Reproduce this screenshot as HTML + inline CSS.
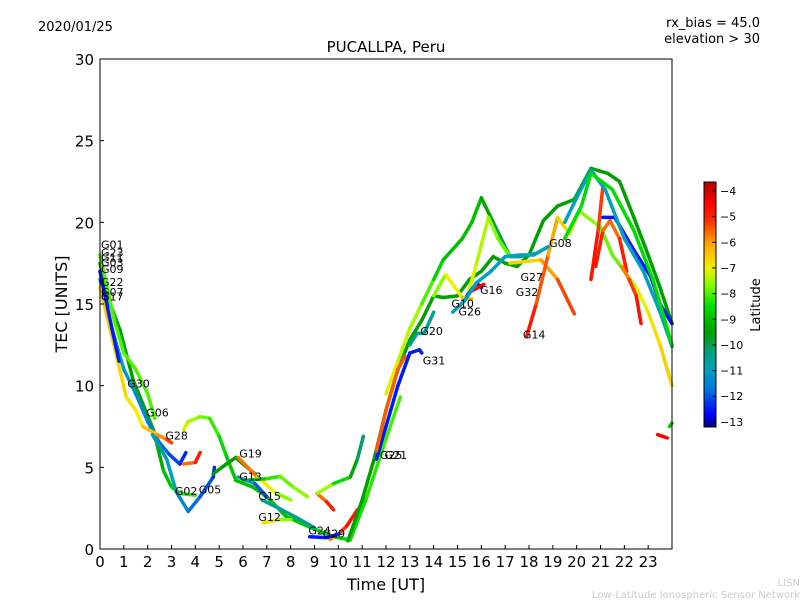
<!DOCTYPE html>
<html><head><meta charset="utf-8"><style>
body{margin:0;background:#fff;}
svg text{font-family:"DejaVu Sans","Liberation Sans",sans-serif;}
</style></head><body>
<svg id="chart" width="800" height="600" xmlns="http://www.w3.org/2000/svg">
<rect width="800" height="600" fill="#fff"/>
<text x="38" y="31" font-size="13">2020/01/25</text>
<text x="760" y="27" font-size="13" text-anchor="end">rx_bias = 45.0</text>
<text x="760" y="43" font-size="13" text-anchor="end">elevation &gt; 30</text>
<text x="386" y="52" font-size="15" text-anchor="middle">PUCALLPA, Peru</text>
<defs><linearGradient id="cbgrad" x1="0" y1="1" x2="0" y2="0"></linearGradient></defs>
<g id="marks"></g>
<g id="axes"></g>
<rect x="100" y="59" width="572" height="490" fill="none" stroke="#000" stroke-width="1"/>
<text x="386" y="590" font-size="16" text-anchor="middle">Time [UT]</text>
<text x="67" y="304" font-size="16" text-anchor="middle" transform="rotate(-90 67 304)">TEC [UNITS]</text>
<rect x="704" y="182" width="12" height="245" fill="url(#cbgrad)" stroke="#000" stroke-width="1"/>
<g id="cbticks"></g>
<text x="760" y="305" font-size="13" text-anchor="middle" transform="rotate(-90 760 305)">Latitude</text>
<text x="800" y="586" font-size="10" fill="#ccc" text-anchor="end">LISN</text>
<text x="800" y="598" font-size="10" fill="#ccc" text-anchor="end">Low-Latitude Ionospheric Sensor Network</text>
</svg>
<script>
const xTicks=[0,1,2,3,4,5,6,7,8,9,10,11,12,13,14,15,16,17,18,19,20,21,22,23];
const yTicks=[0,5,10,15,20,25,30];
const cbTicks=[-4,-5,-6,-7,-8,-9,-10,-11,-12,-13];
const trackLat=[
[-9.5,-9.5,-8],[-10.5,-11.5,-12.5],[-6.5,-7,-5],[-8,-8],[-12.5,-12.5],[-10.5,-12.5],[-6,-4.5],
[-7,-8,-9,-9,-8.5,-8],[-9.5,-9.5],[-5,-7,-8],[-9,-8,-7.5],[-10.5,-12.5],[-10.5,-10.5],
[-6,-4.5],[-7,-9,-10.5],[-6,-4.5],[-12.5,-12.5],[-6.5,-8],
[-9.5,-9.5],[-7,-7.5,-9,-9,-10.5,-11],[-7,-8],[-8,-7,-6],[-7,-6,-5],[-4.5,-6,-7.5,-8,-7,-6.5],
[-4.5,-5.5],[-4.5,-6,-4.5],[-6,-4.5],[-12.5,-12.5],[-11,-11],[-8.5,-8.5],
[-12.5,-12.5],[-10.5,-10.5],[-5.5,-5.5],[-12.5,-12.5],[-4.5,-4.5],[-11,-11],[-4.5,-4.5],[-9,-9]];
const trackPts=[
[[0,17.5],[0.3,15.5],[0.84,13.4],[1.4,10.3],[2.24,7.3],[2.66,4.8],[3.0,3.8],[3.36,3.4],[4,3.3]],
[[0,16.5],[0.5,13.5],[1,11],[1.5,9.5],[2,7.8],[2.5,6.5],[2.9,5.8],[3.35,5.2],[3.6,5.9]],
[[0,16],[0.5,13],[1.1,9.3],[1.5,8.5],[1.8,7.5],[2.4,7],[2.8,6.7],[3.0,6.5]],
[[0,18],[0.6,14],[1,12],[1.5,11],[2,9.5],[2.3,8]],
[[0,17],[0.5,13.5],[0.8,11.5]],
[[2.2,7],[2.8,5.5],[3.2,3.5],[3.7,2.3],[4.2,3.2],[4.75,4.4],[4.8,5]],
[[3.5,5.2],[4,5.3],[4.2,5.9]],
[[3.5,7.3],[3.7,7.8],[4.2,8.1],[4.6,8.0],[5,6.9],[5.3,5.7],[5.7,4.2],[6.4,3.8],[7,3.2],[7.8,2],[8.7,1.4],[9.8,0.75],[10.5,0.55],[11.2,3.2],[11.9,6.3],[12.6,9.3]],
[[4.75,4.6],[5.3,5.2],[5.7,5.6],[6,5.2],[6.5,4.6]],
[[5.8,5.6],[6.6,4.4],[7.4,3.4],[8,3]],
[[6,4.2],[7,4.3],[7.55,4.45],[8.1,3.8],[8.7,3.2]],
[[5.8,4.4],[6.5,4],[7,3.2]],
[[6.8,3],[7.5,2.5],[8.4,1.8],[9,1.3]],
[[9.1,3.4],[9.5,2.9],[9.8,2.4]],
[[9.1,3.4],[9.8,4.0],[10.5,4.4],[10.8,5.5],[11.05,6.9]],
[[9.65,0.6],[10,0.9],[10.35,1.4],[10.8,2.4]],
[[8.8,0.75],[9.5,0.7],[10,0.9]],
[[6.85,1.6],[7.55,1.8],[8,1.8]],
[[10.4,0.5],[11,3],[11.5,5.5],[12,8.5],[12.5,11],[13,12.8],[13.5,14],[14,15.5],[14.4,15.4],[15,15.5],[15.5,16.5],[16,17],[16.5,17.9],[17,17.5],[17.5,17.3],[18,18],[18.6,20.1],[19.2,21],[19.9,21.4],[20.6,23.3],[21.3,23],[21.8,22.5],[22.4,20.3],[23,18],[23.5,16],[24,13.8]],
[[12,9.5],[12.5,11.5],[13,13.5],[13.5,15],[14,16.5],[14.4,17.7],[15.2,19],[15.6,20],[16,21.5],[16.5,20],[17.2,17.9],[17.6,17.9],[18.3,18.1],[18.8,18.5]],
[[15.4,15.4],[15.8,17.5],[16.3,20.3],[16.7,19],[17.2,17.9]],
[[14,15.5],[14.5,16.8],[15.2,15.4],[15.6,15.3]],
[[17.2,17.5],[18.5,17.7],[19.2,16.5],[19.9,14.4]],
[[17.9,13],[18.3,15],[18.8,18],[19.2,20.3],[19.7,19.3],[20.1,20.7],[21,19.7],[21.5,18],[22,17],[22.5,16],[23,14.5],[23.5,12.5],[24,10]],
[[20.6,16.5],[20.9,19.5],[21.1,22.2]],
[[20.8,17.3],[21.1,19.5],[21.4,20.1],[21.8,19],[22.1,17]],
[[21.9,17.3],[22.2,16.5],[22.5,15.5],[22.7,13.8]],
[[21.1,20.3],[21.6,20.3],[22.4,18.3],[23.1,16.7],[23.5,15],[24,13.8]],
[[19.5,20],[20,21.5],[20.6,23.2],[21.2,22],[22,19],[22.8,17],[23.5,14.5],[24,12.4]],
[[19.5,19],[20.2,21],[20.6,23],[21.5,22],[22.4,19.5],[23.2,16.5],[24,12.5]],
[[11.6,5.5],[12,7.5],[12.5,10],[13,12],[13.4,12.2],[13.5,12]],
[[13,12.5],[13.3,13.2],[13.6,13.2],[14,14.5]],
[[11.6,6],[12,8.5],[12.5,11],[12.8,11.8]],
[[15.4,15.5],[15.8,16.3],[16,16]],
[[15.6,15.8],[16.1,16.2]],
[[14.8,14.5],[15.3,15.2],[15.8,16.3],[16.4,17],[17,17.9],[17.6,18],[18.2,18],[18.8,18.5]],
[[23.4,7],[23.8,6.8]],
[[23.9,7.5],[24,7.7]]
];
const prnLabels=["G01","G23","G11","G03","G09","G22","G07","G17","G30","G06","G28","G02","G05","G19","G13","G15","G12","G24","G29","G25","G21","G20","G31","G10","G26","G16","G27","G32","G14","G08"];
const prnX=[0,0,0,0,0,0,0,0,1.1,1.9,2.7,3.1,4.1,5.8,5.8,6.6,6.6,8.7,9.3,11.7,11.9,13.4,13.5,14.7,15.0,15.9,17.6,17.4,17.7,18.8];
const prnY=[18.4,17.9,17.6,17.3,16.9,16.1,15.5,15.2,9.9,8.1,6.7,3.3,3.4,5.6,4.2,3.0,1.7,0.9,0.7,5.5,5.5,13.1,11.3,14.8,14.3,15.6,16.4,15.5,12.9,18.5];
const svgNS="http://www.w3.org/2000/svg";
const X0=100,X1=672,Y0=549,Y1=59;
const xs=t=>X0+t/24*(X1-X0);
const ys=v=>Y0-v/30*(Y0-Y1);
const cbY=l=>182+(-3.65-l)/(13.2-3.65)*245;
const cmap=[[-13.3,[0,0,139]],[-12.7,[0,0,255]],[-11.8,[0,112,224]],[-11,[0,160,192]],[-10.3,[0,160,128]],[-9.5,[0,160,0]],[-8.5,[0,221,0]],[-7.7,[128,255,0]],[-7,[240,240,0]],[-6,[255,160,0]],[-5.2,[255,48,0]],[-4.5,[255,0,0]],[-3.6,[176,0,0]]];
function col(l){
 if(l<=cmap[0][0])return `rgb(${cmap[0][1]})`;
 for(let i=0;i<cmap.length-1;i++){const[a,ca]=cmap[i],[b,cb]=cmap[i+1];
  if(l<=b){const f=(l-a)/(b-a);return `rgb(${ca.map((c,k)=>Math.round(c+(cb[k]-c)*f)).join(',')})`;}}
 return `rgb(${cmap[cmap.length-1][1]})`;}
const grad=document.getElementById('cbgrad');
cmap.forEach(([l,c])=>{const s=document.createElementNS(svgNS,'stop');
 const off=Math.max(0,Math.min(1,(l+13.2)/(13.2-3.65)));
 s.setAttribute('offset',off);s.setAttribute('stop-color',`rgb(${c})`);grad.appendChild(s);});
const marks=document.getElementById('marks');
trackPts.forEach((pts,i)=>{
 const g=document.createElementNS(svgNS,'g');
 
 
 const lats=trackLat[i];
 const n=pts.length-1;
 for(let k=0;k<n;k++){
  const f=(k+0.5)/n*(lats.length-1);
  const j=Math.min(lats.length-2,Math.floor(f));
  const lat=lats[j]+(lats[j+1]-lats[j])*(f-j);
  const ln=document.createElementNS(svgNS,'line');
  ln.setAttribute('x1',xs(pts[k][0]));ln.setAttribute('y1',ys(pts[k][1]));
  ln.setAttribute('x2',xs(pts[k+1][0]));ln.setAttribute('y2',ys(pts[k+1][1]));
  ln.setAttribute('stroke',col(lat));ln.setAttribute('stroke-width','3.5');ln.setAttribute('stroke-linecap','round');
  
  
  g.appendChild(ln);
 }
 marks.appendChild(g);
});
prnLabels.forEach((p,i)=>{
 const t=document.createElementNS(svgNS,'text');
 t.setAttribute('x',xs(prnX[i])+1);t.setAttribute('y',ys(prnY[i]));t.setAttribute('font-size','11');
 t.textContent=p;
 
 
 marks.appendChild(t);
});
const axes=document.getElementById('axes');
xTicks.forEach(v=>{
 const l=document.createElementNS(svgNS,'line');
 l.setAttribute('x1',xs(v));l.setAttribute('x2',xs(v));l.setAttribute('y1',Y0);l.setAttribute('y2',Y0-4);l.setAttribute('stroke','#000');
 
 
 axes.appendChild(l);
 const t=document.createElementNS(svgNS,'text');
 t.setAttribute('x',xs(v));t.setAttribute('y',Y0+18);t.setAttribute('font-size','15');t.setAttribute('text-anchor','middle');t.textContent=v;
 
 
 axes.appendChild(t);
});
yTicks.forEach(v=>{
 const l=document.createElementNS(svgNS,'line');
 l.setAttribute('x1',X0);l.setAttribute('x2',X0+4);l.setAttribute('y1',ys(v));l.setAttribute('y2',ys(v));l.setAttribute('stroke','#000');
 
 
 axes.appendChild(l);
 const t=document.createElementNS(svgNS,'text');
 t.setAttribute('x',X0-6);t.setAttribute('y',ys(v)+6);t.setAttribute('font-size','15');t.setAttribute('text-anchor','end');t.textContent=v;
 
 
 axes.appendChild(t);
});
const cb=document.getElementById('cbticks');
cbTicks.forEach(v=>{
 const l=document.createElementNS(svgNS,'line');
 l.setAttribute('x1',712);l.setAttribute('x2',716);l.setAttribute('y1',cbY(v));l.setAttribute('y2',cbY(v));l.setAttribute('stroke','#000');
 
 
 cb.appendChild(l);
 const t=document.createElementNS(svgNS,'text');
 t.setAttribute('x',720);t.setAttribute('y',cbY(v)+4);t.setAttribute('font-size','11');t.textContent='\u2212'+Math.abs(v);
 
 
 cb.appendChild(t);
});
</script>
</body></html>
